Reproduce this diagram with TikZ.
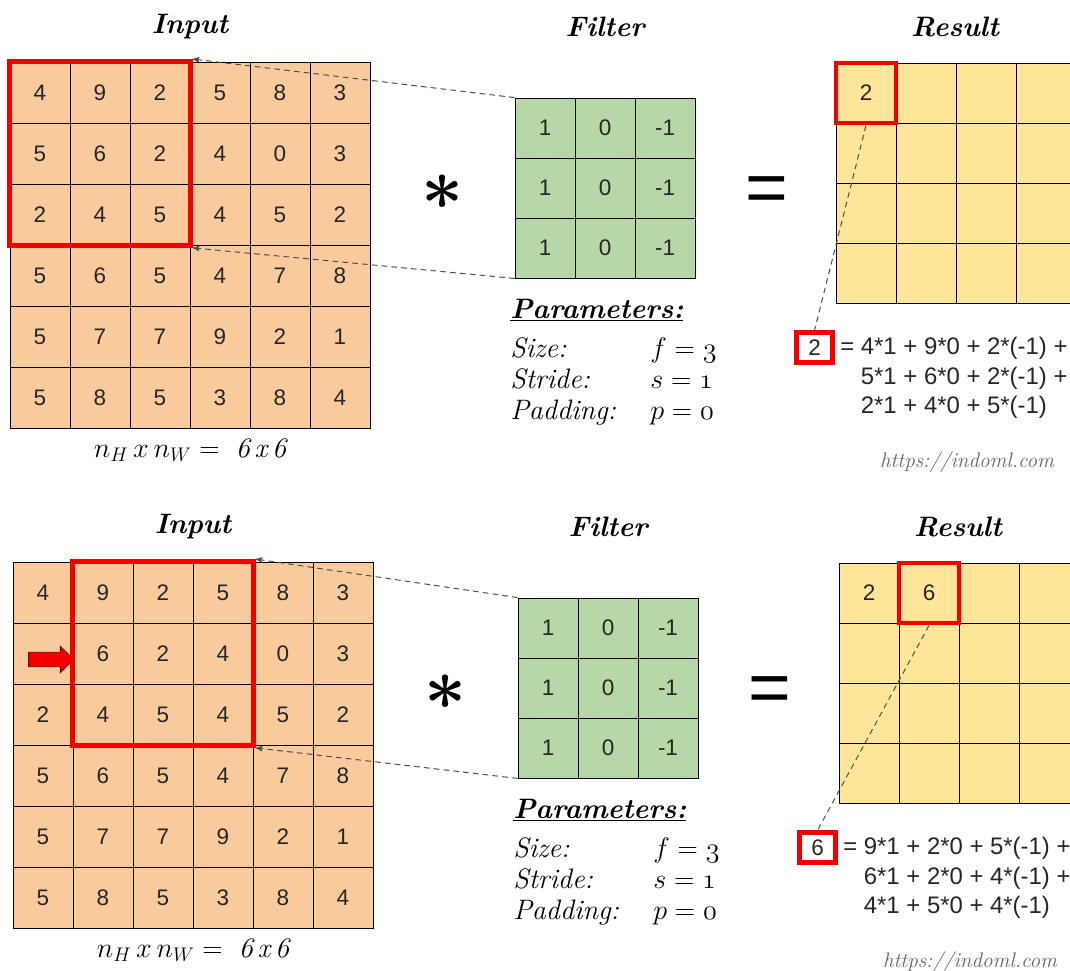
\documentclass[tikz,border=0pt]{standalone}
\usepackage{fix-cm}
\usepackage{fontspec}
\setsansfont{Liberation Sans}
\usetikzlibrary{arrows,fit,shapes.arrows}
\definecolor{peach}{HTML}{F9CB9C}
\definecolor{leaf}{HTML}{B6D7A8}
\definecolor{sand}{HTML}{FFE599}
\definecolor{boxred}{HTML}{F20000}
\newcommand{\osn}[1]{\mathnormal{#1}}

\begin{document}
\begin{tikzpicture}[x=0.025cm,y=-0.025cm,>=stealth',
 cell/.style={draw,line width=0.6pt,inner sep=0pt,minimum width=1.5cm,minimum height=1.5cm,text=black!85,font=\sffamily\fontsize{16}{16}\selectfont},
 inp/.style={cell,fill=peach,minimum height=1.525cm},
 flt/.style={cell,fill=leaf},
 res/.style={cell,fill=sand},
 win/.style={draw=boxred,line width=3.5pt,inner sep=0pt},
 link/.style={draw=black!70,line width=0.7pt,dash pattern=on 4pt off 3pt},
 head/.style={font=\bfseries\itshape\fontsize{20}{24}\selectfont},
 prm/.style={inner sep=0pt,font=\itshape\fontsize{20}{22}\selectfont},
 op/.style={inner sep=0pt,font=\fontsize{52}{52}\selectfont\boldmath},
 equ/.style={inner sep=0pt,font=\sffamily\fontsize{52}{52}\selectfont},
 dim/.style={font=\fontsize{20}{24}\selectfont},
 eqn/.style={anchor=west,align=left,inner sep=0pt,text=black!85,font=\sffamily\fontsize{17}{21}\selectfont},
 url/.style={text=black!60,font=\itshape\fontsize{15}{18}\selectfont}]
\path[use as bounding box,fill=white](0,0)rectangle(1070,971);
\clip(0,0)rectangle(1070,971);

\begin{scope}
\node[head](h1)at(190,27){Input};
\node[head](h2)at(605,27){Filter};
\node[head](h3)at(955,27){Result};
\foreach \line[count=\y from 0] in {{4,9,2,5,8,3},{5,6,2,4,0,3},{2,4,5,4,5,2},{5,6,5,4,7,8},{5,7,7,9,2,1},{5,8,5,3,8,4}}
  \foreach \v[count=\x from 0] in \line
    \node[inp](a\y\x)at(40+60*\x,92.5+61*\y){\v};
\foreach \y in {0,1,2}
  \foreach \v[count=\x from 0] in {1,0,-1}
    \node[flt](f\y\x)at(545+60*\x,128+60*\y){\v};
\foreach \y in {0,...,3}
  \foreach \x in {0,...,3}
    \node[res](r\y\x)at(866+60*\x,93+60*\y){};
\node[win,fit=(a00)(a22)](wa){};
\node[cell,win](wr)at(r00){2};
\node[op](o1)at(443,192){$\ast$};
\node[equ](o2)at(767,195){=};
\node[prm,font=\bfseries\itshape\fontsize{20}{22}\selectfont,anchor=base west](p1)at(510,318){\underline{Parameters:}};
\node[prm,anchor=north west](p2)at(510,336){\begin{tabular}{@{}p{3.5cm}@{}l@{}}Size:&$f=\osn{3}$\\Stride:&$s=\osn{1}$\\Padding:&$p=\osn{0}$\end{tabular}};
\node[dim](d1)at(190,450){$n_H\,x\,n_W=\ \mathit{6\,x\,6}$};
\node[cell,win,line width=3pt,minimum width=0.9cm,minimum height=0.75cm](k1)at(814.5,347.5){2};
\node[eqn](e1)at(840,378){= 4*1 + 9*0 + 2*(-1) +\\\phantom{= }5*1 + 6*0 + 2*(-1) +\\\phantom{= }2*1 + 4*0 + 5*(-1)};
\node[url](u1)at(967,462){https://indoml.com};
\draw[link,->](f00.north west)--(wa.north east);
\draw[link,->](f20.south west)--(wa.south east);
\draw[link](wr.south)--(k1.north);
\end{scope}

\begin{scope}[shift={(3,500)}]
\node[head](h4)at(190,27){Input};
\node[head](h5)at(605,27){Filter};
\node[head](h6)at(955,27){Result};
\foreach \line[count=\y from 0] in {{4,9,2,5,8,3},{,6,2,4,0,3},{2,4,5,4,5,2},{5,6,5,4,7,8},{5,7,7,9,2,1},{5,8,5,3,8,4}}
  \foreach \v[count=\x from 0] in \line
    \node[inp](b\y\x)at(40+60*\x,92.5+61*\y){\v};
\foreach \y in {0,1,2}
  \foreach \v[count=\x from 0] in {1,0,-1}
    \node[flt](g\y\x)at(545+60*\x,128+60*\y){\v};
\foreach \y in {0,...,3}
  \foreach \x in {0,...,3}
    \node[res](s\y\x)at(866+60*\x,93+60*\y){};
\node[single arrow,fill=boxred,draw=red!45!black,line width=0.6pt,inner xsep=0pt,inner ysep=0.17cm,minimum height=1.125cm,single arrow head extend=0.15cm,single arrow head indent=0pt](m1)at(44.5,159.5){};
\node[win,fit=(b01)(b23)](wb){};
\node[cell](n2)at(s00){2};
\node[cell,win](ws)at(s01){6};
\node[op](o3)at(443,192){$\ast$};
\node[equ](o4)at(767,195){=};
\node[prm,font=\bfseries\itshape\fontsize{20}{22}\selectfont,anchor=base west](p3)at(510,318){\underline{Parameters:}};
\node[prm,anchor=north west](p4)at(510,336){\begin{tabular}{@{}p{3.5cm}@{}l@{}}Size:&$f=\osn{3}$\\Stride:&$s=\osn{1}$\\Padding:&$p=\osn{0}$\end{tabular}};
\node[dim](d2)at(190,450){$n_H\,x\,n_W=\ \mathit{6\,x\,6}$};
\node[cell,win,line width=3pt,minimum width=0.9cm,minimum height=0.75cm](k2)at(814.5,347.5){6};
\node[eqn](e2)at(840,378){= 9*1 + 2*0 + 5*(-1) +\\\phantom{= }6*1 + 2*0 + 4*(-1) +\\\phantom{= }4*1 + 5*0 + 4*(-1)};
\node[url](u2)at(967,462){https://indoml.com};
\draw[link,->](g00.north west)--(wb.north east);
\draw[link,->](g20.south west)--(wb.south east);
\draw[link](ws.south)--(k2.north);
\end{scope}
\end{tikzpicture}
\end{document}
